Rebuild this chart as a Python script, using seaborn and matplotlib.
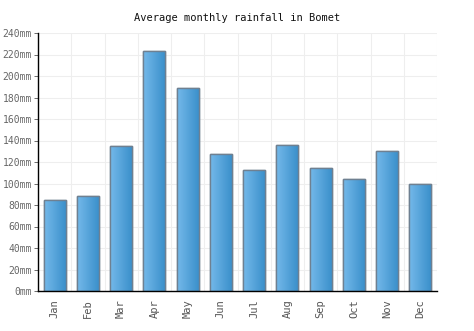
import numpy as np
import pandas as pd
import matplotlib
matplotlib.use("Agg")
import matplotlib.pyplot as plt
import seaborn as sns
from matplotlib.colors import LinearSegmentedColormap
from matplotlib.patches import Rectangle

months = ["Jan", "Feb", "Mar", "Apr", "May", "Jun", "Jul", "Aug", "Sep", "Oct", "Nov", "Dec"]
rainfall = [85, 88, 135, 223, 189, 127, 113, 136, 114, 104, 130, 100]
yticks = list(range(0, 241, 20))
ytick_labels = [f"{v}mm" for v in yticks]

sns.set_style("white")
plt.rcParams['font.family'] = ['DejaVu Sans Mono', 'DejaVu Sans']

df = pd.DataFrame({"month": months, "rain": rainfall})
fig = plt.figure(figsize=(4.74, 3.31), dpi=100)
ax = fig.add_axes([38/474, 1-291/331, (437-38)/474, (291-33)/331])

sns.barplot(data=df, x="month", y="rain", ax=ax, color="#4a9fd8",
            width=0.66, edgecolor="#6f8091", linewidth=1.0, saturation=1)

cmap = LinearSegmentedColormap.from_list("g", ["#74b9ea", "#3b90cb"])
grad = np.linspace(0, 1, 64).reshape(1, -1)
for p in list(ax.patches):
    x0, y0 = p.get_x(), p.get_y()
    w, h = p.get_width(), p.get_height()
    im = ax.imshow(grad, cmap=cmap, aspect="auto", extent=[x0, x0 + w, y0, y0 + h],
                   zorder=p.get_zorder() + 0.1, interpolation="bilinear")
    im.set_clip_path(p)
    ax.add_patch(Rectangle((x0, y0), w, h, fill=False, edgecolor="#6f8091",
                           linewidth=1.0, zorder=p.get_zorder() + 0.2))

ax.set_xlim(-0.5, 11.5)
ax.set_ylim(0, 240)
ax.set_yticks(yticks)
ax.set_yticklabels(ytick_labels)
ax.set_xticks(range(12))
ax.set_xticklabels(months, rotation=90)
ax.set_xticks(np.arange(-0.5, 12, 1), minor=True)
ax.grid(True, axis="y", color="#eeeeee", linewidth=0.8)
ax.grid(True, axis="x", which="minor", color="#eeeeee", linewidth=0.8)
ax.set_axisbelow(True)
ax.set_xlabel("")
ax.set_ylabel("")
for s in ["top", "right"]:
    ax.spines[s].set_visible(False)
for s in ["left", "bottom"]:
    ax.spines[s].set_color("#000000")
    ax.spines[s].set_linewidth(1.0)
ax.tick_params(axis="y", labelsize=7, colors="#555555", length=3, width=0.6, pad=1.5, left=True)
ax.tick_params(axis="y", labelcolor="#666666")
ax.tick_params(axis="x", labelsize=7.5, labelcolor="#555555", length=0, pad=6)
ax.tick_params(axis="x", which="minor", length=0)
ax.set_title("Average monthly rainfall in Bomet", fontsize=7.5, color="#111111", pad=8.5)

fig.savefig("out.png", dpi=100)
